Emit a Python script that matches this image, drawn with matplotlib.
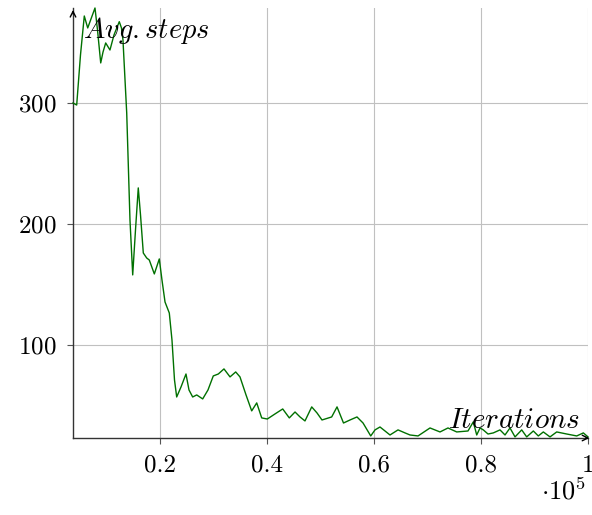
import numpy as np
import matplotlib.pyplot as plt

plt.rcParams["font.family"] = "serif"
plt.rcParams["font.serif"] = ["cmr10"]
plt.rcParams["mathtext.fontset"] = "cm"
plt.rcParams["axes.formatter.use_mathtext"] = True
plt.rcParams["axes.unicode_minus"] = False

# values (iterations, average steps)
iterations = [3740, 4430, 5140, 5850, 6490, 7850, 8320, 8920, 9350, 9850,
              10650, 11400, 12390, 12800, 13080, 13780, 14390, 14900, 15420, 15940,
              16360, 16880, 17510, 18000, 18940, 19870, 20370, 20940, 21740, 22240,
              22710, 23120, 23930, 24860, 25420, 26110, 26860, 27980, 28970, 29960,
              30900, 31960, 33090, 34150, 34950, 36080, 37140, 38080, 39010, 40060,
              41500, 42940, 44170, 45240, 46170, 47100, 48360, 49350, 50280, 52090,
              53090, 54300, 55520, 56820, 57950, 59390, 60190, 61120, 62060, 62990,
              64490, 65800, 66730, 68230, 69350, 70470, 72340, 73830, 75460, 77570,
              78560, 79200, 79820, 80430, 81310, 82300, 83550, 84490, 85420, 86360,
              87610, 88540, 89780, 90710, 91650, 92900, 94150, 96020, 97890, 99130,
              100000]
avg_steps = [300.0, 298.3, 339.7, 371.9, 362.0, 378.5, 360.3, 333.1, 342.1, 349.6,
             343.8, 356.2, 367.2, 362.0, 352.1, 291.7, 203.3, 157.9, 195.0, 229.8,
             207.4, 176.0, 171.9, 170.2, 158.7, 171.1, 153.7, 135.5, 126.4, 104.1,
             71.1, 57.0, 65.3, 76.0, 62.8, 57.0, 58.7, 55.4, 62.8, 74.4,
             76.0, 80.2, 73.6, 77.7, 73.6, 58.7, 45.5, 52.1, 39.7, 38.8,
             43.0, 47.1, 39.7, 44.6, 40.5, 37.2, 48.8, 43.8, 38.0, 40.5,
             48.8, 35.5, 38.0, 40.5, 35.5, 24.8, 29.8, 32.2, 28.9, 25.6,
             29.8, 27.3, 25.6, 24.8, 28.1, 31.4, 28.1, 31.4, 28.1, 28.9,
             36.4, 25.6, 31.4, 29.8, 26.4, 27.3, 29.8, 25.6, 31.4, 24.0,
             29.8, 24.0, 28.9, 24.8, 28.1, 24.0, 28.1, 26.4, 24.8, 27.3,
             24.0]

x_ticks = [20000, 40000, 60000, 80000, 100000]
x_tick_labels = ["0.2", "0.4", "0.6", "0.8", "1"]
y_ticks = [100, 200, 300]

fig = plt.figure(figsize=(5.92, 5.15), dpi=100)
ax = fig.add_axes([73 / 592, 1 - 438 / 515, 515 / 592, 430 / 515])

ax.plot(iterations, avg_steps, color="#007000", lw=1.0, clip_on=False, zorder=3)

ax.set_xlim(3740, 100000)
ax.set_ylim(23.1, 378.5)
ax.set_xticks(x_ticks)
ax.set_xticklabels(x_tick_labels)
ax.set_yticks(y_ticks)
ax.grid(True, color="#c0c0c0", lw=0.8)
ax.set_axisbelow(True)

for s in ["top", "right"]:
    ax.spines[s].set_visible(False)
for s in ["left", "bottom"]:
    ax.spines[s].set_color("#333333")
    ax.spines[s].set_linewidth(1.0)
ax.tick_params(direction="out", length=4, width=0.8, color="#555555",
               labelsize=18, pad=8)

# arrow heads on the axis lines
ax.annotate("", xy=(1.008, 0), xytext=(0.99, 0), xycoords="axes fraction",
            arrowprops=dict(arrowstyle="->", color="black", lw=1.0), annotation_clip=False)
ax.annotate("", xy=(0, 1.002), xytext=(0, 0.98), xycoords="axes fraction",
            arrowprops=dict(arrowstyle="->", color="black", lw=1.0), annotation_clip=False)

fig.text(146 / 592, 1 - 31 / 515, r"$Avg{.}steps$", fontsize=20.5, ha="center", va="center")
fig.text(580 / 592, 1 - 428 / 515, r"$Iterations$", fontsize=21, ha="right", va="baseline")
fig.text(564 / 592, 1 - 491 / 515, r"$\cdot 10^5$", fontsize=19, ha="center", va="center")

fig.savefig("out.png", dpi=100)
